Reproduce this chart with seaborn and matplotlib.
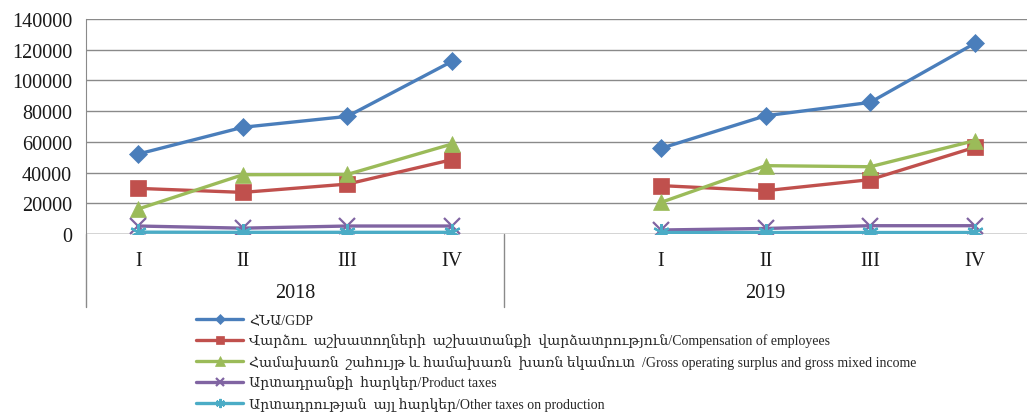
import pandas as pd
import seaborn as sns
import matplotlib.pyplot as plt
from matplotlib.ticker import StrMethodFormatter

# Quarterly values
years = ["2018", "2019"]
quarters = ["I", "II", "III", "IV"]

gdp_2018 = [52100, 69500, 76600, 112400]
gdp_2019 = [55800, 77000, 85700, 124100]
comp_2018 = [29700, 27100, 32500, 48400]
comp_2019 = [31500, 28200, 35400, 56400]
gos_2018 = [16300, 38600, 38800, 58600]
gos_2019 = [20600, 44500, 43800, 60800]
prod_tax_2018 = [5200, 3800, 5200, 5200]
prod_tax_2019 = [2600, 3600, 5400, 5400]
other_tax_2018 = [1200, 1100, 1100, 1100]
other_tax_2019 = [1000, 1000, 1000, 1000]

series_names = [
    "ՀՆԱ/GDP",
    "Վարձու  աշխատողների  աշխատանքի  վարձատրություն/Compensation of employees",
    "Համախառն  շահույթ և համախառն  խառն եկամուտ  /Gross operating surplus and gross mixed income",
    "Արտադրանքի  հարկեր/Product taxes",
    "Արտադրության  այլ հարկեր/Other taxes on production",
]
series_2018 = [gdp_2018, comp_2018, gos_2018, prod_tax_2018, other_tax_2018]
series_2019 = [gdp_2019, comp_2019, gos_2019, prod_tax_2019, other_tax_2019]

colors = ["#4A7EBB", "#C0504D", "#9BBB59", "#8064A2", "#4BACC6"]
markers = ["D", "s", "^", "x", (6, 2, 0)]
msizes = [9, 11, 12, 11, 12]

# slot positions: 2018 -> slots 0..3, blank slot 4, 2019 -> slots 5..8
pos_2018 = [0.5, 1.5, 2.5, 3.5]
pos_2019 = [5.5, 6.5, 7.5, 8.5]

rows = []
for name, v18, v19 in zip(series_names, series_2018, series_2019):
    for p, v in zip(pos_2018, v18):
        rows.append({"series": name, "year": "2018", "pos": p, "value": v})
    for p, v in zip(pos_2019, v19):
        rows.append({"series": name, "year": "2019", "pos": p, "value": v})
df = pd.DataFrame(rows)

sns.set_style("white")
plt.rcParams["font.family"] = ["Liberation Serif", "DejaVu Serif", "DejaVu Sans"]

fig = plt.figure(figsize=(10.3, 4.14), dpi=100)
ax = fig.add_axes([86 / 1030, 1 - 235 / 414, 941 / 1030, 215 / 414])

for i, name in enumerate(series_names):
    for yr in years:
        sub = df[(df["series"] == name) & (df["year"] == yr)]
        sns.lineplot(
            data=sub, x="pos", y="value", ax=ax,
            color=colors[i], marker=markers[i], markersize=msizes[i],
            markeredgewidth=1.6 if i >= 3 else 0.5,
            markeredgecolor=colors[i],
            linewidth=2.4,
            label=name if yr == "2018" else None,
        )

grid_c = "#8a8a8a"
ax.set_xlim(0, 9)
ax.set_ylim(0, 140000)
ax.set_yticks(range(0, 140001, 20000))
ax.yaxis.set_major_formatter(StrMethodFormatter("{x:.0f}"))
ax.yaxis.grid(True, color=grid_c, linewidth=1)
ax.set_axisbelow(True)

for s in ["top", "right", "bottom"]:
    ax.spines[s].set_visible(False)
ax.spines["left"].set_color(grid_c)
ax.axhline(0, color=grid_c, linewidth=1, zorder=0.5)

ax.tick_params(axis="y", direction="out", length=5, color=grid_c,
               labelsize=14.5, labelcolor="#1a1a1a", pad=5)

# quarter labels at slot centres, separators at slot edges
ax.set_xticks(pos_2018 + pos_2019)
ax.set_xticklabels(quarters + quarters)
ax.tick_params(axis="x", which="major", length=0, labelsize=14.5,
               labelcolor="#1a1a1a", pad=12)
ax.set_xticks([1, 2, 3, 5, 6, 7, 8], minor=True)
ax.tick_params(axis="x", which="minor", direction="out", length=26,
               color=grid_c, width=1)

for x in [0, 4]:
    ax.axvline(x, ymin=-0.34, ymax=0, color=grid_c, linewidth=1, clip_on=False)

ax.text(2, -0.27, "2018", transform=ax.get_xaxis_transform(),
        ha="center", va="center", fontsize=14.5, color="#1a1a1a")
ax.text(6.5, -0.27, "2019", transform=ax.get_xaxis_transform(),
        ha="center", va="center", fontsize=14.5, color="#1a1a1a")

ax.set_xlabel("")
ax.set_ylabel("")

ax.legend(
    loc="upper left", bbox_to_anchor=(196 / 1030, 1 - 315 / 414),
    bbox_transform=fig.transFigure, frameon=False, fontsize=10,
    handlelength=3.4, handletextpad=0.4, labelspacing=0.5,
    markerscale=0.55, borderpad=0, borderaxespad=0,
)

fig.savefig("out.png", dpi=100)
